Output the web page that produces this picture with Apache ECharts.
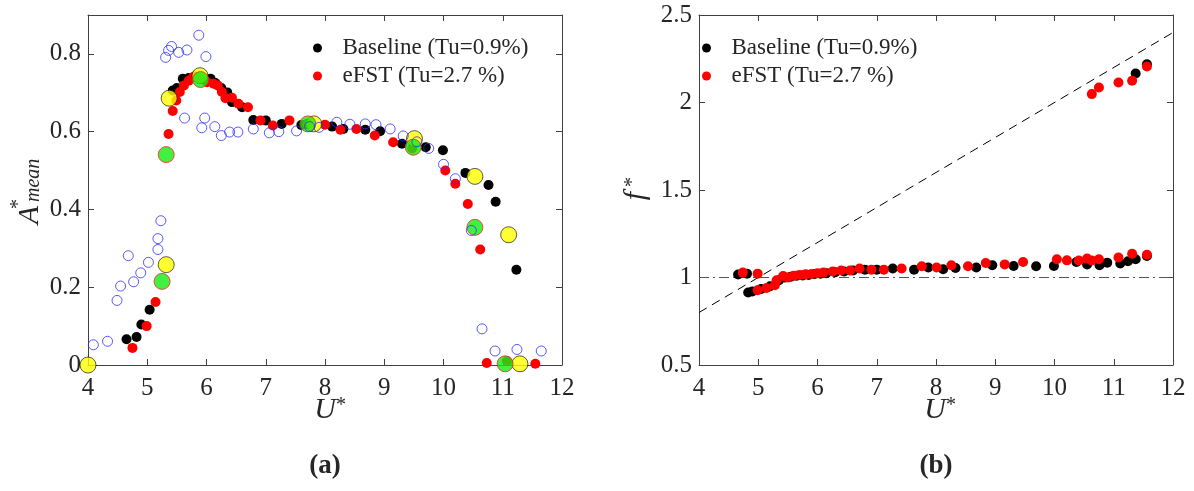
<!DOCTYPE html>
<html>
<head>
<meta charset="utf-8">
<script src="https://cdn.jsdelivr.net/npm/echarts@6/dist/echarts.min.js"></script>
<style>
  html, body { margin: 0; padding: 0; background: #fff; }
  #chart { width: 1194px; height: 491px; }
</style>
</head>
<body>
<div id="chart"></div>
<script>
// ---------- panel (a): mean amplitude A*_mean against reduced velocity U* ----------
const refU_a = [4.09, 4.33, 4.49, 4.55, 4.68, 4.77, 4.89, 5.02, 5.18, 5.18, 5.23, 5.31, 5.36, 5.41, 5.53, 5.67, 5.87, 5.99,
  5.63, 5.92, 5.97, 6.14, 6.25, 6.39, 6.53, 6.79, 7.06, 7.22, 7.52, 7.74, 7.90, 8.20, 8.42, 8.68, 8.86, 9.10, 9.32, 9.55,
  9.75, 10.00, 10.20, 10.47, 10.65, 10.87, 11.24, 11.65];
const refA = [0.052, 0.061, 0.166, 0.203, 0.281, 0.214, 0.237, 0.264, 0.297, 0.325, 0.371, 0.791, 0.809, 0.819, 0.804, 0.810, 0.848, 0.793,
  0.635, 0.610, 0.635, 0.613, 0.590, 0.599, 0.599, 0.607, 0.597, 0.600, 0.602, 0.613, 0.611, 0.624, 0.619, 0.620, 0.618, 0.607, 0.589, 0.574,
  0.557, 0.516, 0.479, 0.346, 0.093, 0.036, 0.040, 0.036];

const baseU_a = [4.65, 4.82, 4.90, 5.04, 5.43, 5.50, 5.60, 5.70, 5.80, 6.07, 6.15, 6.25, 6.35, 6.43, 6.60, 6.79, 7.00, 7.27, 7.60,
  7.70, 8.12, 8.31, 8.68, 8.93, 9.30, 9.70, 9.99, 10.37, 10.76, 10.88, 11.23];
const baseA = [0.066, 0.072, 0.104, 0.142, 0.706, 0.712, 0.736, 0.738, 0.742, 0.736, 0.725, 0.712, 0.701, 0.676, 0.663, 0.630, 0.629, 0.620, 0.617,
  0.620, 0.613, 0.607, 0.605, 0.601, 0.569, 0.560, 0.552, 0.494, 0.463, 0.420, 0.245];

const efstU_a = [4.75, 4.99, 5.14, 5.36, 5.43, 5.49, 5.55, 5.62, 5.70, 5.77, 5.90, 6.01, 6.12, 6.19, 6.26, 6.32, 6.43, 6.54, 6.70,
  6.91, 7.12, 7.40, 7.70, 8.00, 8.26, 8.53, 8.84, 9.15, 9.47, 10.03, 10.20, 10.41, 10.62, 10.73, 11.07, 11.55];
const efstA = [0.044, 0.100, 0.162, 0.594, 0.653, 0.680, 0.702, 0.719, 0.731, 0.740, 0.736, 0.727, 0.723, 0.719, 0.702, 0.686, 0.687, 0.672, 0.663,
  0.629, 0.616, 0.629, 0.620, 0.618, 0.605, 0.607, 0.590, 0.573, 0.557, 0.500, 0.466, 0.414, 0.297, 0.005, 0.010, 0.003];

// highlighted cases (large markers)
const yellowU = [4.00, 5.32, 5.37, 5.89, 7.81, 9.51, 10.53, 11.10, 11.29];
const yellowA = [0.000, 0.258, 0.686, 0.744, 0.620, 0.582, 0.485, 0.335, 0.003];
const greenU = [5.25, 5.32, 5.90, 7.71, 9.49, 10.53, 11.04];
const greenA = [0.215, 0.541, 0.734, 0.620, 0.560, 0.354, 0.003];

// ---------- panel (b): frequency ratio f* against U* ----------
const baseU_b = [4.66, 4.81, 4.83, 4.90, 5.05, 5.20, 5.35, 5.45, 5.55, 5.65, 5.75, 5.85, 5.95, 6.05, 6.15, 6.30, 6.45, 6.60, 6.80,
  7.00, 7.27, 7.63, 7.87, 8.12, 8.33, 8.68, 8.95, 9.31, 9.69, 9.99, 10.37, 10.55, 10.76, 10.89, 11.11, 11.24, 11.37, 11.56, 11.37, 11.56];
const baseF = [1.017, 1.022, 0.914, 0.920, 0.935, 0.950, 0.985, 1.000, 1.005, 1.010, 1.012, 1.015, 1.020, 1.022, 1.025, 1.030, 1.035, 1.040, 1.045,
  1.045, 1.051, 1.045, 1.057, 1.047, 1.054, 1.057, 1.070, 1.066, 1.064, 1.066, 1.089, 1.074, 1.070, 1.085, 1.080, 1.093, 1.104, 1.123, 2.166, 2.219];

const efstU_b = [4.74, 4.99, 4.99, 5.14, 5.28, 5.31, 5.42, 5.50, 5.60, 5.70, 5.80, 5.90, 6.00, 6.10, 6.26, 6.40, 6.55, 6.71, 6.91,
  7.12, 7.42, 7.76, 8.01, 8.26, 8.54, 8.84, 9.16, 9.47, 10.04, 10.21, 10.41, 10.55, 10.63, 10.75, 11.08, 11.31, 11.56,
  10.63, 10.75, 11.08, 11.31, 11.56];
const efstF = [1.028, 1.022, 0.927, 0.940, 0.956, 0.984, 1.009, 1.000, 1.010, 1.015, 1.018, 1.020, 1.025, 1.028, 1.035, 1.040, 1.040, 1.051, 1.045,
  1.045, 1.051, 1.064, 1.057, 1.070, 1.064, 1.083, 1.075, 1.089, 1.104, 1.098, 1.097, 1.108, 1.097, 1.104, 1.114, 1.136, 1.130,
  2.048, 2.086, 2.114, 2.124, 2.206];

// guide lines: f* = 0.2 U* (dashed) and f* = 1 (dash-dot)
const guideU = [4, 12];
const guideF = [0.8, 2.4];
const unityU = [4, 12];
const unityF = [1, 1];

// axis ranges
const U_MIN = 4, U_MAX = 12, U_STEP = 1;
const A_MIN = 0, A_MAX = 0.9, A_STEP = 0.2;
const F_MIN = 0.5, F_MAX = 2.5, F_STEP = 0.5;

const NAME_BASE = 'Baseline (Tu=0.9%)';
const NAME_EFST = 'eFST (Tu=2.7 %)';

const FONT = '"Liberation Serif", "Times New Roman", serif';
const INK = '#262626';
const AXIS = '#404040';

const zip = (xs, ys) => xs.map((x, i) => [x, ys[i]]);

function xAxis(grid, position, labels) {
  return {
    type: 'value', gridIndex: grid, position: position,
    min: U_MIN, max: U_MAX, interval: U_STEP,
    axisLine: { show: true, onZero: false, lineStyle: { color: AXIS, width: 1 } },
    axisTick: { show: true, inside: true, length: 6, lineStyle: { color: AXIS } },
    axisLabel: { show: labels, margin: 11, fontFamily: FONT, fontSize: 25, color: INK },
    splitLine: { show: false }
  };
}
function yAxis(grid, position, labels, min, max, step) {
  return {
    type: 'value', gridIndex: grid, position: position,
    min: min, max: max, interval: step,
    axisLine: { show: true, onZero: false, lineStyle: { color: AXIS, width: 1 } },
    axisTick: { show: true, inside: true, length: 6, lineStyle: { color: AXIS } },
    axisLabel: { show: labels, margin: 7, fontFamily: FONT, fontSize: 25, color: INK, showMaxLabel: min === F_MIN },
    splitLine: { show: false }
  };
}

function dots(name, xi, yi, data, color, size, z) {
  return {
    name: name, type: 'scatter', xAxisIndex: xi, yAxisIndex: yi,
    data: data, symbol: 'circle', symbolSize: size, clip: false, z: z,
    itemStyle: { color: color, opacity: 1 },
    emphasis: { disabled: true }
  };
}

function legendAt(left) {
  return {
    left: left, top: 30, orient: 'vertical',
    itemWidth: 40, itemHeight: 9, itemGap: 2,
    icon: 'circle',
    data: [NAME_BASE, NAME_EFST],
    textStyle: { fontFamily: FONT, fontSize: 23, color: INK, lineHeight: 26 },
    selectedMode: false
  };
}

function italic(size) { return 'italic ' + size + 'px ' + FONT; }
function txt(x, y, text, font, align) {
  return { type: 'text', x: x, y: y, silent: true,
    style: { text: text, font: font, fill: INK, textAlign: align || 'center', textVerticalAlign: 'middle' } };
}

const option = {
  backgroundColor: '#ffffff',
  animation: false,
  grid: [
    { left: 88, top: 15, width: 474, height: 350 },
    { left: 699, top: 15, width: 474, height: 350 }
  ],
  xAxis: [
    xAxis(0, 'bottom', true), xAxis(0, 'top', false),
    xAxis(1, 'bottom', true), xAxis(1, 'top', false)
  ],
  yAxis: [
    yAxis(0, 'left', true, A_MIN, A_MAX, A_STEP), yAxis(0, 'right', false, A_MIN, A_MAX, A_STEP),
    yAxis(1, 'left', true, F_MIN, F_MAX, F_STEP), yAxis(1, 'right', false, F_MIN, F_MAX, F_STEP)
  ],
  legend: [legendAt(308), legendAt(697)],
  series: [
    // panel (a)
    dots(NAME_BASE, 0, 0, zip(baseU_a, baseA), '#000000', 10, 2),
    dots(NAME_EFST, 0, 0, zip(efstU_a, efstA), '#ff0000', 10, 3),
    Object.assign(dots('highlight-yellow', 0, 0, zip(yellowU, yellowA), '#ffff00', 16, 4),
      { itemStyle: { color: '#ffff00', borderColor: '#000000', borderWidth: 0.8 } }),
    Object.assign(dots('highlight-green', 0, 0, zip(greenU, greenA), '#00ee00', 16, 5),
      { itemStyle: { color: '#11ee11', borderColor: '#ff2020', borderWidth: 1 } }),
    Object.assign(dots('reference', 0, 0, zip(refU_a, refA), 'none', 10, 6),
      { itemStyle: { color: 'rgba(0,0,0,0)', borderColor: '#2f2fff', borderWidth: 1 } }),
    // panel (b)
    {
      name: 'guide', type: 'line', xAxisIndex: 2, yAxisIndex: 2, data: zip(guideU, guideF),
      symbol: 'none', silent: true, z: 1,
      lineStyle: { color: '#000000', width: 1, type: [9, 6] }
    },
    {
      name: 'unity', type: 'line', xAxisIndex: 2, yAxisIndex: 2, data: zip(unityU, unityF),
      symbol: 'none', silent: true, z: 1,
      lineStyle: { color: '#555555', width: 1, type: [10, 4, 2, 4] }
    },
    dots(NAME_BASE, 2, 2, zip(baseU_b, baseF), '#000000', 10, 2),
    dots(NAME_EFST, 2, 2, zip(efstU_b, efstF), '#ff0000', 10, 3)
  ],
  graphic: [
    // x-axis names
    txt(325, 410, 'U', italic(30)),
    txt(341, 406, '*', '20px ' + FONT),
    txt(935, 410, 'U', italic(30)),
    txt(951, 406, '*', '20px ' + FONT),
    // y-axis name, panel (a)
    { type: 'group', x: 30, y: 192, rotation: Math.PI / 2, children: [
      txt(-23, 0, 'A', italic(30)),
      txt(-12, -11, '*', '20px ' + FONT),
      txt(-10, 4, 'mean', italic(20), 'left')
    ] },
    // y-axis name, panel (b)
    { type: 'group', x: 636, y: 192, rotation: Math.PI / 2, children: [
      txt(-4, 0, 'f', italic(30)),
      txt(10, -3, '*', '20px ' + FONT)
    ] },
    // panel captions
    txt(325, 466, '(a)', 'bold 27px ' + FONT),
    txt(936, 466, '(b)', 'bold 27px ' + FONT)
  ]
};

const chart = echarts.init(document.getElementById('chart'), null, { renderer: 'canvas' });
chart.setOption(option);
</script>
</body>
</html>
